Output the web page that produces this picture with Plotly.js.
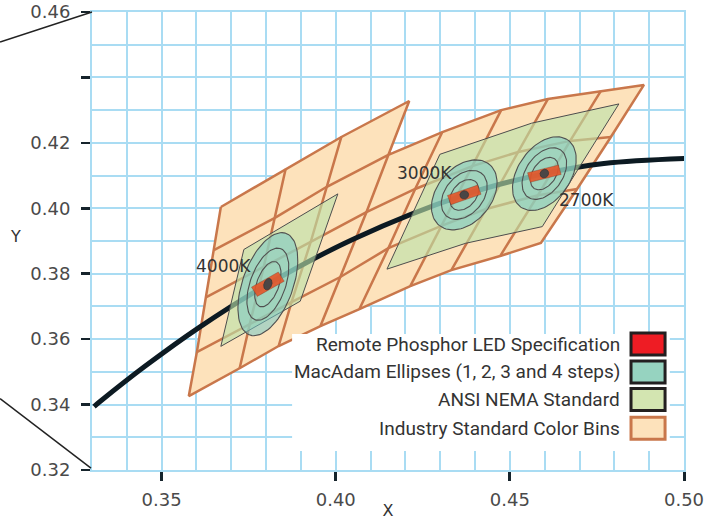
<!DOCTYPE html>
<html><head><meta charset="utf-8">
<script src="https://cdn.plot.ly/plotly-3.0.1.min.js"></script>
<style>html,body{margin:0;padding:0;background:#fff}#chart{width:705px;height:520px}</style>
</head><body><div id="chart"></div>
<script>
// ---------- data ----------
// Planckian locus (black curve)
const locusX = [0.3306, 0.3324, 0.3451, 0.3608, 0.3805, 0.4053, 0.4369, 0.4599, 0.4770, 0.5018];
const locusY = [0.3394, 0.3410, 0.3516, 0.3636, 0.3768, 0.3907, 0.4041, 0.4106, 0.4137, 0.4153];

// CCT points (ellipse / spec centres) and their labels
const cctNames = ['4000K', '3000K', '2700K'];
const cctX = [0.3805, 0.4369, 0.4599];
const cctY = [0.3768, 0.4041, 0.4106];
const cctLabelX = [0.3678, 0.4254, 0.4721];
const cctLabelY = [0.3823, 0.4108, 0.4025];

// Industry standard colour bins: grid nodes, rows R0..R4, columns C0..C8 (null = no node)
const binNodeX = [
  [0.3670, 0.3856, 0.4016, 0.4211, null, null, null, null, null],
  [0.3650, 0.3824, 0.3973, 0.4151, 0.4306, 0.4475, 0.4609, 0.4761, 0.4885],
  [0.3627, 0.3793, 0.3928, 0.4088, 0.4228, 0.4392, 0.4524, 0.4673, 0.4790],
  [0.3601, 0.3753, 0.3873, 0.4013, 0.4151, 0.4303, 0.4432, 0.4581, 0.4693],
  [0.3578, 0.3724, 0.3836, 0.3956, 0.4068, 0.4214, 0.4332, 0.4472, 0.4589]
];
const binNodeY = [
  [0.4004, 0.4120, 0.4218, 0.4328, null, null, null, null, null],
  [0.3872, 0.3970, 0.4065, 0.4163, 0.4233, 0.4300, 0.4334, 0.4358, 0.4377],
  [0.3728, 0.3820, 0.3897, 0.3988, 0.4059, 0.4129, 0.4172, 0.4206, 0.4218],
  [0.3560, 0.3646, 0.3713, 0.3790, 0.3878, 0.3946, 0.3998, 0.4040, 0.4059],
  [0.3426, 0.3511, 0.3579, 0.3640, 0.3692, 0.3762, 0.3811, 0.3854, 0.3894]
];

// ANSI NEMA quadrangles
const ansi4000X = [0.4006, 0.3736, 0.3670, 0.3898];
const ansi4000Y = [0.4044, 0.3874, 0.3578, 0.3716];
const ansiWarmX = [0.4299, 0.4562, 0.4813, 0.4593, 0.4373, 0.4147];
const ansiWarmY = [0.4165, 0.4260, 0.4319, 0.3944, 0.3893, 0.3814];

// MacAdam ellipses (outer, 4-step size) and relative ring sizes for steps 1..4
const ellA = [0.0164, 0.0118, 0.0123];
const ellB = [0.0073, 0.0080, 0.0077];
const ellAngle = [72, 55, 59];
const ellRing = [0.11, 0.44, 0.70, 1.00];

// Remote phosphor specification boxes
const specLen = [0.0090, 0.0092, 0.0092];
const specWid = [0.0033, 0.0030, 0.0030];
const specAngle = [31, 20, 15];

// legend
const legendLabels = ['Remote Phosphor LED Specification', 'MacAdam Ellipses (1, 2, 3 and 4 steps)', 'ANSI NEMA Standard', 'Industry Standard Color Bins'];
const legendFill = ['#ee1c24', '#96d3c0', '#d3e5b1', '#fde2bb'];
const legendLine = ['#231f20', '#231f20', '#231f20', '#c9774b'];

// axes
const xTickVals = [0.35, 0.40, 0.45, 0.50];
const xTickText = ['0.35', '0.40', '0.45', '0.50'];
const yTickVals = [0.32, 0.34, 0.36, 0.38, 0.40, 0.42, 0.44, 0.46];
const yTickText = ['0.32', '0.34', '0.36', '0.38', '0.40', '0.42', '', '0.46'];
const xRange = [0.33, 0.50];
const yRange = [0.32, 0.46];

// thin black lines running off the left of the plot
const edgeLineX = [[0.3036, 0.3300], [0.3036, 0.3297]];
const edgeLineY = [[0.4508, 0.4600], [0.3418, 0.3206]];

// ---------- build traces ----------
const ORANGE_LINE = '#c9774b';
const traces = [];

// bins outline polygon + inner grid
(function () {
  const ox = [], oy = [];
  const push = (r, c) => { ox.push(binNodeX[r][c]); oy.push(binNodeY[r][c]); };
  for (let c = 0; c <= 3; c++) push(0, c);
  for (let c = 3; c <= 8; c++) push(1, c);
  for (let r = 2; r <= 4; r++) push(r, 8);
  for (let c = 7; c >= 0; c--) push(4, c);
  for (let r = 3; r >= 0; r--) push(r, 0);
  traces.push({x: ox, y: oy, mode: 'lines', fill: 'toself', fillcolor: '#fde2bb',
    line: {color: ORANGE_LINE, width: 2.5}, hoverinfo: 'skip'});
  const gx = [], gy = [];
  const seg = (pts) => { pts.forEach(([r, c]) => { gx.push(binNodeX[r][c]); gy.push(binNodeY[r][c]); }); gx.push(null); gy.push(null); };
  seg([[1,0],[1,1],[1,2],[1,3]]);
  for (let r = 2; r <= 3; r++) { const p = []; for (let c = 0; c <= 8; c++) p.push([r, c]); seg(p); }
  for (let c = 1; c <= 2; c++) seg([[0,c],[1,c],[2,c],[3,c],[4,c]]);
  seg([[1,3],[2,3],[3,3],[4,3]]);
  for (let c = 4; c <= 7; c++) seg([[1,c],[2,c],[3,c],[4,c]]);
  traces.push({x: gx, y: gy, mode: 'lines', line: {color: ORANGE_LINE, width: 2.5}, hoverinfo: 'skip'});
})();

// Planckian locus
traces.push({x: locusX, y: locusY, mode: 'lines', line: {color: '#0c1a22', width: 5, shape: 'spline'}, hoverinfo: 'skip'});

// ANSI quads
[[ansi4000X, ansi4000Y], [ansiWarmX, ansiWarmY]].forEach(([qx, qy]) => {
  traces.push({x: qx.concat([qx[0]]), y: qy.concat([qy[0]]), mode: 'lines', fill: 'toself',
    fillcolor: 'rgba(188,226,169,0.62)', line: {color: '#4d4d4d', width: 1}, hoverinfo: 'skip'});
});

// ellipses
function ellipse(cx, cy, a, b, angDeg) {
  const th = angDeg * Math.PI / 180, xs = [], ys = [];
  for (let k = 0; k <= 90; k++) {
    const t = k / 90 * 2 * Math.PI;
    const u = a * Math.cos(t), v = b * Math.sin(t);
    xs.push(cx + u * Math.cos(th) - v * Math.sin(th));
    ys.push(cy + u * Math.sin(th) + v * Math.cos(th));
  }
  return [xs, ys];
}
cctX.forEach((cx, i) => {
  const [ex, ey] = ellipse(cx, cctY[i], ellA[i], ellB[i], ellAngle[i]);
  traces.push({x: ex, y: ey, mode: 'lines', fill: 'toself', fillcolor: 'rgba(116,200,201,0.55)',
    line: {color: '#505050', width: 1.1}, hoverinfo: 'skip'});
  [ellRing[1], ellRing[2]].forEach(f => {
    const [rx, ry] = ellipse(cx, cctY[i], ellA[i] * f, ellB[i] * f, ellAngle[i]);
    traces.push({x: rx, y: ry, mode: 'lines', line: {color: '#505050', width: 1.1}, hoverinfo: 'skip'});
  });
});

// spec boxes
cctX.forEach((cx, i) => {
  const th = specAngle[i] * Math.PI / 180, L = specLen[i] / 2, W = specWid[i] / 2;
  const corners = [[-L, -W], [L, -W], [L, W], [-L, W], [-L, -W]];
  traces.push({
    x: corners.map(([u, v]) => cx + u * Math.cos(th) - v * Math.sin(th)),
    y: corners.map(([u, v]) => cctY[i] + u * Math.sin(th) + v * Math.cos(th)),
    mode: 'lines', fill: 'toself', fillcolor: 'rgba(228,84,40,0.9)', line: {color: 'rgba(90,50,40,0.5)', width: 0.6}, hoverinfo: 'skip'});
});
// 1-step ellipse drawn as small dark oval
cctX.forEach((cx, i) => {
  const [dx, dy] = ellipse(cx, cctY[i], ellA[i] * ellRing[0], ellB[i] * ellRing[0] * 1.4, ellAngle[i]);
  traces.push({x: dx, y: dy, mode: 'lines', fill: 'toself', fillcolor: '#4a4646',
    line: {color: '#3a3636', width: 0.8}, hoverinfo: 'skip'});
});

// ---------- layout ----------
const toPX = v => (v - xRange[0]) / (xRange[1] - xRange[0]);
const toPY = v => (v - yRange[0]) / (yRange[1] - yRange[0]);
const shapes = [];
edgeLineX.forEach((lx, i) => {
  shapes.push({type: 'line', xref: 'paper', yref: 'paper', x0: toPX(lx[0]), x1: toPX(lx[1]),
    y0: toPY(edgeLineY[i][0]), y1: toPY(edgeLineY[i][1]), line: {color: '#222', width: 1.5}, layer: 'above'});
});
// legend box
shapes.push({type: 'rect', xref: 'paper', yref: 'paper', x0: 0.338, x1: 0.976, y0: 0.0415, y1: 0.297,
  fillcolor: '#ffffff', line: {width: 0}, layer: 'above'});
const annotations = [];
const rowY = [0.275, 0.214, 0.154, 0.091];
legendLabels.forEach((t, i) => {
  shapes.push({type: 'rect', xref: 'paper', yref: 'paper', x0: 0.9105, x1: 0.968,
    y0: rowY[i] - 0.024, y1: rowY[i] + 0.024, fillcolor: legendFill[i],
    line: {color: legendLine[i], width: 3}, layer: 'above'});
  annotations.push({xref: 'paper', yref: 'paper', x: 0.895, y: rowY[i], text: t, showarrow: false,
    xanchor: 'right', yanchor: 'middle', font: {family: 'Roboto, sans-serif', size: 19, color: '#333'}});
});
cctNames.forEach((t, i) => {
  annotations.push({x: cctLabelX[i], y: cctLabelY[i], text: t, showarrow: false,
    font: {family: 'DejaVu Sans, sans-serif', size: 17, color: '#333'}});
});
// upright Y axis title
annotations.push({xref: 'paper', yref: 'paper', x: -0.130, y: 0.509, text: 'Y', showarrow: false,
  xanchor: 'center', yanchor: 'middle', font: {family: 'DejaVu Sans, sans-serif', size: 16, color: '#333'}});

const GRID = '#a9dcf3';
const layout = {
  width: 705, height: 520,
  margin: {l: 92, r: 21, t: 12, b: 50},
  paper_bgcolor: '#fff', plot_bgcolor: '#fff', showlegend: false,
  font: {family: 'DejaVu Sans, sans-serif', color: '#444'},
  xaxis: {range: xRange, tickmode: 'array', tickvals: xTickVals, ticktext: xTickText,
    ticks: 'outside', ticklen: 9, tickwidth: 3, tickcolor: '#16242c', ticklabelstandoff: 3,
    tickfont: {size: 18, color: '#4a4a4a'},
    showgrid: true, gridcolor: GRID, gridwidth: 2, zeroline: false,
    minor: {tick0: 0.33, dtick: 0.01, showgrid: true, gridcolor: GRID, gridwidth: 2, ticks: ''},
    showline: true, linecolor: GRID, linewidth: 2, mirror: true,
    title: {text: 'X', font: {size: 16, color: '#333'}, standoff: 2}},
  yaxis: {range: yRange, tickmode: 'array', tickvals: yTickVals, ticktext: yTickText,
    ticks: 'outside', ticklen: 9, tickwidth: 2.5, tickcolor: '#16242c', ticklabelstandoff: 7,
    tickfont: {size: 18, color: '#4a4a4a'},
    showgrid: true, gridcolor: GRID, gridwidth: 2, zeroline: false,
    minor: {tick0: 0.32, dtick: 0.01, showgrid: true, gridcolor: GRID, gridwidth: 2, ticks: ''},
    showline: true, linecolor: GRID, linewidth: 2, mirror: true},
  shapes: shapes, annotations: annotations
};
Plotly.newPlot('chart', traces, layout, {displayModeBar: false, staticPlot: true});
</script></body></html>
